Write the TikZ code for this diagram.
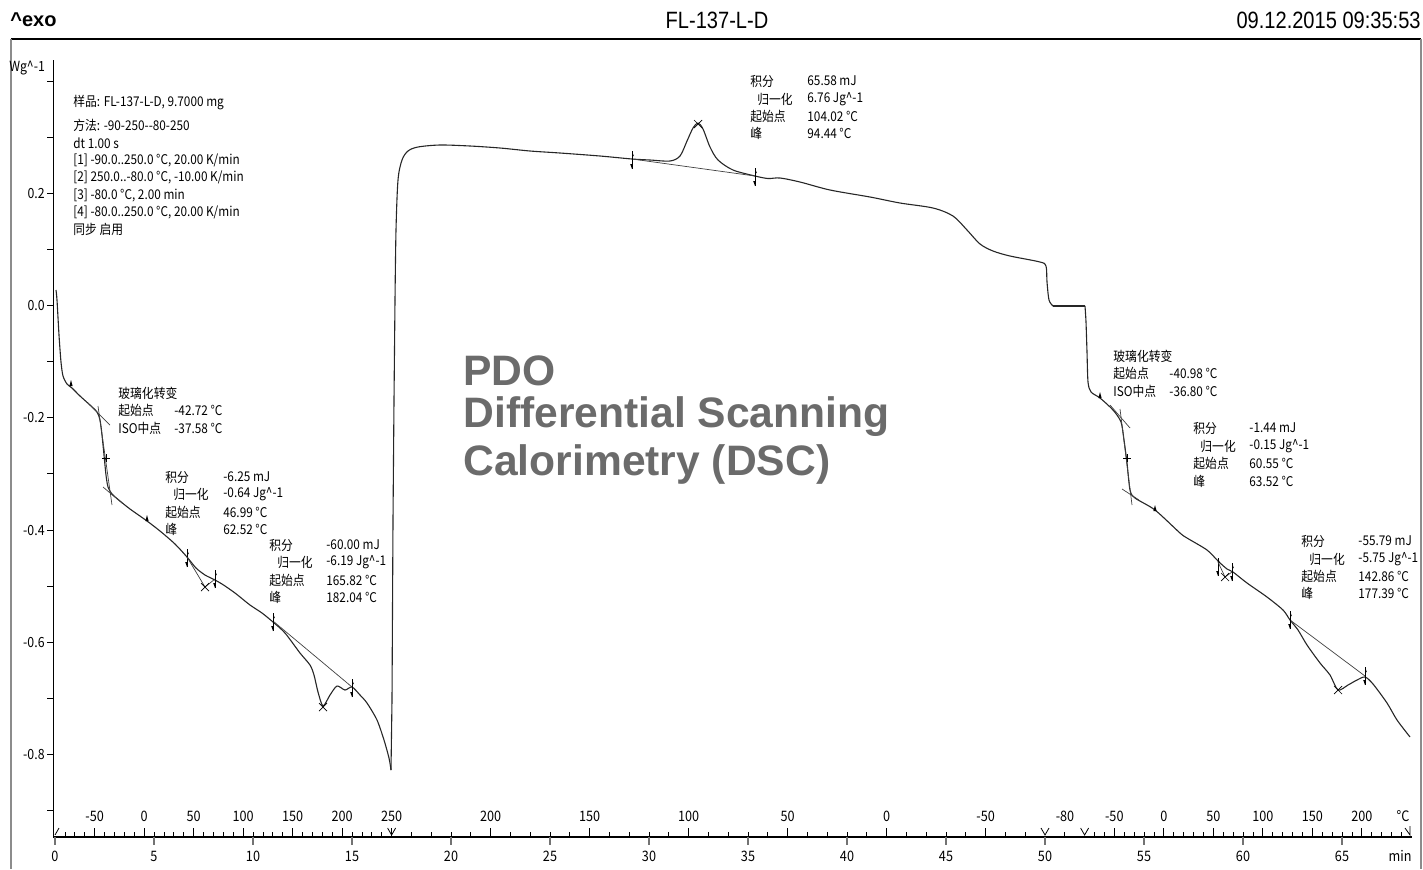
\documentclass[tikz,border=0pt]{standalone}
\usepackage{fontspec}
\newfontfamily\cjk[FakeStretch=0.88]{Noto Sans CJK SC}
\newfontfamily\arl{Liberation Sans}
\newfontfamily\arln[FakeStretch=0.85]{Liberation Sans}
\begin{document}
\begin{tikzpicture}[x=0.5pt,y=-0.5pt,
 ann/.style={font=\cjk\fontsize{6.7}{7}\selectfont, anchor=west, inner sep=0pt},
 axl/.style={font=\cjk\fontsize{7}{7}\selectfont, inner sep=0pt},
 tlab/.style={font=\cjk\fontsize{7.2}{7}\selectfont, inner sep=0pt},
 hdr/.style={font=\arln\fontsize{11.8}{12}\selectfont, inner sep=0pt},
 dsc/.style={line width=0.55pt, black!85, line join=round},
 tline/.style={line width=0.35pt, black!75},
 wm/.style={font=\arl\bfseries\fontsize{21.3}{23}\selectfont, text=black!58, anchor=west, inner sep=0pt},
 limmark/.pic={\draw[line width=0.4pt] (0,-9)--(0,9); \fill (0,-9)--(1.8,-4)--(0,-4)--cycle; \fill (0,9)--(-1.8,4)--(0,4)--cycle;},
 xmark/.pic={\draw[line width=0.35pt] (-4,-4)--(4,4) (-4,4)--(4,-4);},
 pmark/.pic={\draw[line width=0.45pt] (-4,0)--(4,0) (0,-4)--(0,4);},
 trimark/.pic={\fill (0,-5)--(1.6,1)--(-1.6,1)--cycle;}
]
\useasboundingbox (0,0) rectangle (1423,869);
% frame
\draw[line width=0.6pt] (11,39) -- (1421,39);
\draw[line width=0.8pt, black!45] (11,39) -- (11,869);
\draw[line width=0.8pt, black!45] (1421,39) -- (1421,869);
% header
\node[font=\arl\bfseries\fontsize{10}{11}\selectfont, inner sep=0pt, anchor=west] (exo) at (10,20) {\^{}exo};
\node[hdr] (title) at (717,20) {FL-137-L-D};
\node[hdr, anchor=east] (date) at (1421,20) {09.12.2015 09:35:53};
% y axis
\draw[line width=0.5pt] (53,60) -- (53,837);
\node[axl, anchor=west] (unit) at (9,68) {Wg\^{}-1};
\foreach \v/\yy in {0.2/193,0.0/305,-0.2/417,-0.4/530,-0.6/642,-0.8/754} {
  \draw[line width=0.5pt] (47,\yy) -- (53,\yy);
  \node[axl, anchor=east] (yl\yy) at (45,\yy) {\v};
}
\foreach \yy in {81,137,249,361,473,586,698,810} { \draw[line width=0.5pt] (47,\yy) -- (53,\yy); }
% x axis
\draw[line width=0.6pt] (53,837) -- (1412,837);
\foreach \t in {0,5,...,65} {
  \pgfmathsetmacro\xx{55+19.8*\t}
  \draw[line width=0.6pt, black!55] (\xx,837) -- (\xx,845);
  \node[tlab] (tm\t) at (\xx,856) {\t};
}
\node[tlab] (minl) at (1400,856) {min};
% temperature ticks segment 1 (heating)
\foreach \T in {-80,-70,...,240} { \pgfmathsetmacro\xx{55+19.8*(\T+90)/20} \draw[line width=0.4pt] (\xx,832) -- (\xx,837); }
\foreach \T in {-50,0,...,250} { \pgfmathsetmacro\xx{55+19.8*(\T+90)/20} \draw[line width=0.5pt] (\xx,828) -- (\xx,837); \node[tlab] at (\xx,816) {\T}; }
% segment 2 (cooling)
\foreach \T in {240,230,...,-70} { \pgfmathsetmacro\xx{55+19.8*(17+(250-\T)/10)} \draw[line width=0.4pt] (\xx,832) -- (\xx,837); }
\foreach \T in {200,150,...,-50} { \pgfmathsetmacro\xx{55+19.8*(17+(250-\T)/10)} \draw[line width=0.5pt] (\xx,828) -- (\xx,837); \node[tlab] at (\xx,816) {\T}; }
\node[tlab] (m80) at (1065,816) {-80};
\draw[line width=0.4pt] (1064,832) -- (1064,837);
% segment 4 (heating)
\foreach \T in {-70,-60,...,240} { \pgfmathsetmacro\xx{55+19.8*(52+(\T+80)/20)} \draw[line width=0.4pt] (\xx,832) -- (\xx,837); }
\foreach \T in {-50,0,...,200} { \pgfmathsetmacro\xx{55+19.8*(52+(\T+80)/20)} \draw[line width=0.5pt] (\xx,828) -- (\xx,837); \node[tlab] at (\xx,816) {\T}; }
\node[tlab] (degc) at (1403,816) {°C};
% segment boundary markers
\draw[line width=0.4pt] (55,835) -- (59,828);
\foreach \xx in {391.6,1045,1084.6} { \draw[line width=0.4pt] (\xx-4,828) -- (\xx,835) -- (\xx+4,828); }
\draw[line width=0.4pt] (1405,828) -- (1410,835) -- (1410,826);

% DSC curve
\draw[dsc] plot[smooth, tension=0.45] coordinates {(56,290) (57,300) (59,335) (61,362) (63,376) (67,384) (72,388) (80,396) (90,405) (97,412) (100,420) (102,435) (104,455) (106,475) (108,487) (112,494) (120,501) (130,509) (147,521) (160,531) (175,544) (187,557) (196,568) (205,575) (213,579) (222,584) (235,593) (250,605) (262,613) (273,622) (285,633) (300,653) (310,665) (314,675) (318,692) (323,706) (330,695) (337,686) (345,690) (352,687) (360,695) (367,703) (377,720) (384,740) (389,758) (391,770)};
\draw[dsc] (391,770) -- (392,700) -- (393,520) -- (394,400) -- (395,300);
\draw[dsc] plot[smooth, tension=0.5] coordinates {(395,300) (396,230) (398,180) (402,160) (408,151) (418,147) (440,145) (470,146) (500,148) (530,151) (560,153) (600,156) (632,159) (650,160) (670,161) (680,156) (687,141) (693,128) (698,123) (703,129) (710,147) (718,160) (733,170) (755,176) (768,178.5) (780,178) (800,182) (830,190) (870,197) (900,203) (933,208) (953,216) (967,230) (980,244) (993,251) (1010,256) (1040,262) (1046,266) (1047,282) (1049,300) (1053,306)};
\draw[dsc] (1053,306) -- (1085,306);
\draw[dsc] plot[smooth, tension=0.45] coordinates {(1085,306) (1086,322) (1087,352) (1088,382) (1091,392) (1100,398) (1113,410) (1121,422) (1124,440) (1127,463) (1130,490) (1135,498) (1155,510) (1180,533) (1187,538) (1207,550) (1218,561) (1227,569) (1233,572) (1247,583) (1267,597) (1283,610) (1290,620) (1298,630) (1307,645) (1320,663) (1330,675) (1338,690) (1348,685) (1357,680) (1365,677) (1373,684) (1387,703) (1397,720) (1410,737)};

% --- segment 1 glass transition
\draw[tline] (88,403) -- (110,425);
\draw[tline] (98,406) -- (112,505);
\draw[tline] (103,487) -- (122,503);
\pic at (106,458) {pmark};
\pic at (71,385) {trimark};
\pic at (147,520) {trimark};
% peak 1
\pic at (187,558) {limmark};
\pic at (215,579) {limmark};
\draw[tline] (187,557) -- (205,587) -- (215,579);
\pic at (205,587) {xmark};
% peak 2
\draw[tline] (273,621) -- (352,687);
\pic at (273,622) {limmark};
\pic at (352,688) {limmark};
\pic at (323,707) {xmark};
% crystallisation peak (cooling)
\draw[tline] (632,159) -- (755,176);
\pic at (632,160) {limmark};
\pic at (755,177) {limmark};
\pic at (698,124) {xmark};
% segment 4 glass transition
\draw[tline] (1110,405) -- (1130,428);
\draw[tline] (1120,409) -- (1132,505);
\draw[tline] (1122,489) -- (1139,500);
\pic at (1127,458) {pmark};
\pic at (1100,397) {trimark};
\pic at (1155,510) {trimark};
% small peak seg 4
\pic at (1218,567) {limmark};
\pic at (1232,572) {limmark};
\draw[tline] (1218,562) -- (1225,577) -- (1232,572);
\pic at (1225,577) {xmark};
% peak seg 4
\draw[tline] (1290,620) -- (1365,676);
\pic at (1290,620) {limmark};
\pic at (1365,676) {limmark};
\pic at (1338,690) {xmark};

% method block
\node[ann] (s1) at (73,103) {样品: FL-137-L-D, 9.7000 mg};
\node[ann] (s2) at (73,125) {方法: -90-250--80-250};
\node[ann] (s3) at (73,143) {dt 1.00 s};
\node[ann] (s4) at (73,160) {[1] -90.0..250.0 °C, 20.00 K/min};
\node[ann] (s5) at (73,177.5) {[2] 250.0..-80.0 °C, -10.00 K/min};
\node[ann] (s6) at (73,195) {[3] -80.0 °C, 2.00 min};
\node[ann] (s7) at (73,212.5) {[4] -80.0..250.0 °C, 20.00 K/min};
\node[ann] (s8) at (73,229) {同步 启用};
% left glass transition
\node[ann] (ga1) at (118,393) {玻璃化转变};
\node[ann] (ga2) at (118,410) {起始点};
\node[ann] (ga2v) at (174,410) {-42.72 °C};
\node[ann] (ga3) at (118,428) {ISO中点};
\node[ann] (ga3v) at (174,428) {-37.58 °C};
% left peak 1
\node[ann] (pa1) at (165,477) {积分};
\node[ann] (pa1v) at (223,477) {-6.25 mJ};
\node[ann] (pa2) at (173,494) {归一化};
\node[ann] (pa2v) at (223,494) {-0.64 Jg\^{}-1};
\node[ann] (pa3) at (165,512) {起始点};
\node[ann] (pa3v) at (223,512) {46.99 °C};
\node[ann] (pa4) at (165,529) {峰};
\node[ann] (pa4v) at (223,529) {62.52 °C};
% left peak 2
\node[ann] (pb1) at (269,545) {积分};
\node[ann] (pb1v) at (326,545) {-60.00 mJ};
\node[ann] (pb2) at (277,562) {归一化};
\node[ann] (pb2v) at (326,562) {-6.19 Jg\^{}-1};
\node[ann] (pb3) at (269,580) {起始点};
\node[ann] (pb3v) at (326,580) {165.82 °C};
\node[ann] (pb4) at (269,597) {峰};
\node[ann] (pb4v) at (326,597) {182.04 °C};
% top peak
\node[ann] (pc1) at (750,81) {积分};
\node[ann] (pc1v) at (807,81) {65.58 mJ};
\node[ann] (pc2) at (757,99) {归一化};
\node[ann] (pc2v) at (807,99) {6.76 Jg\^{}-1};
\node[ann] (pc3) at (750,116) {起始点};
\node[ann] (pc3v) at (807,116) {104.02 °C};
\node[ann] (pc4) at (750,133) {峰};
\node[ann] (pc4v) at (807,133) {94.44 °C};
% right glass transition
\node[ann] (gb1) at (1113,356) {玻璃化转变};
\node[ann] (gb2) at (1113,373) {起始点};
\node[ann] (gb2v) at (1169,373) {-40.98 °C};
\node[ann] (gb3) at (1113,391) {ISO中点};
\node[ann] (gb3v) at (1169,391) {-36.80 °C};
% right peak 1
\node[ann] (pd1) at (1193,428) {积分};
\node[ann] (pd1v) at (1249,428) {-1.44 mJ};
\node[ann] (pd2) at (1200,446) {归一化};
\node[ann] (pd2v) at (1249,446) {-0.15 Jg\^{}-1};
\node[ann] (pd3) at (1193,463) {起始点};
\node[ann] (pd3v) at (1249,463) {60.55 °C};
\node[ann] (pd4) at (1193,481) {峰};
\node[ann] (pd4v) at (1249,481) {63.52 °C};
% right peak 2
\node[ann] (pe1) at (1301,541) {积分};
\node[ann] (pe1v) at (1358,541) {-55.79 mJ};
\node[ann] (pe2) at (1309,559) {归一化};
\node[ann] (pe2v) at (1358,559) {-5.75 Jg\^{}-1};
\node[ann] (pe3) at (1301,576) {起始点};
\node[ann] (pe3v) at (1358,576) {142.86 °C};
\node[ann] (pe4) at (1301,593) {峰};
\node[ann] (pe4v) at (1358,593) {177.39 °C};
% watermark
\node[wm] (w1) at (463,371) {PDO};
\node[wm] (w2) at (463,417) {Differential Scanning};
\node[wm] (w3) at (463,464) {Calorimetry (DSC)};
\end{tikzpicture}
\end{document}
